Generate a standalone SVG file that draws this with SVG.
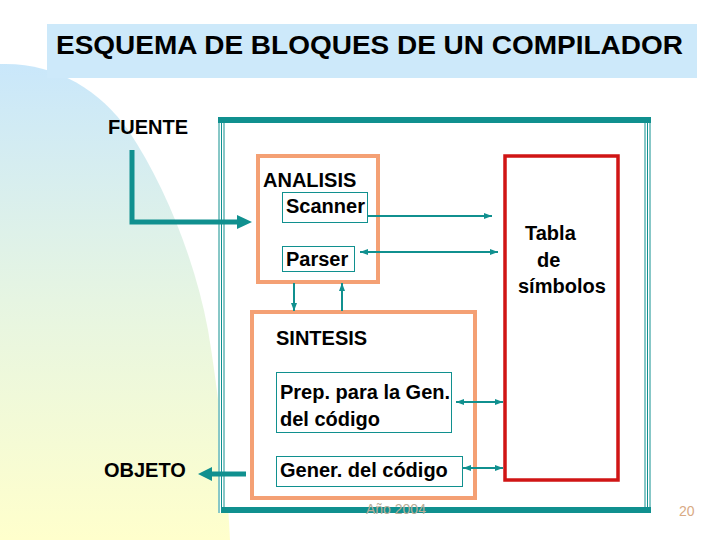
<svg xmlns="http://www.w3.org/2000/svg" width="720" height="540" viewBox="0 0 720 540">
<style>
.lbl{font-family:"Liberation Sans",Arial,sans-serif;font-weight:bold;font-size:20px;fill:#000}
.orange{fill:none;stroke:#f4a074;stroke-width:4}
.thin{fill:#fff;stroke:#10908f;stroke-width:1}
.conn{stroke:#10908f;stroke-width:2;fill:none}
.thick{stroke:#10908f;stroke-width:5;fill:none}
.frame{stroke:#10908f;stroke-width:1;fill:none}
.foot{font-family:"Liberation Sans",Arial,sans-serif;font-size:14px}
</style>
<defs>
<linearGradient id="bg" gradientUnits="userSpaceOnUse" x1="0" y1="60" x2="0" y2="540">
<stop offset="0" stop-color="#c9e7fb"/>
<stop offset="0.5" stop-color="#e6f5e2"/>
<stop offset="1" stop-color="#ffffcc"/>
</linearGradient>
<marker id="ah" markerUnits="userSpaceOnUse" markerWidth="8" markerHeight="6" refX="8" refY="3" orient="auto-start-reverse">
<path d="M0,0 L8,3 L0,6 Z" fill="#10908f"/>
</marker>
</defs>
<rect width="720" height="540" fill="#fff"/>
<path d="M0,64 C55,62 100,90 128,130 C165,185 195,260 208,330 C218,390 226,460 230,540 L0,540 Z" fill="url(#bg)"/>
<g id="title">
<rect x="47" y="24" width="650" height="54" fill="#cde9fa"/>
<text x="56" y="54" font-family="Liberation Sans,Arial,sans-serif" font-weight="bold" font-size="25" textLength="627" lengthAdjust="spacingAndGlyphs">ESQUEMA DE BLOQUES DE UN COMPILADOR</text>
</g>
<g id="frame">
<rect x="218" y="117" width="433" height="396" fill="#fff"/>
<line class="frame" x1="219" y1="117" x2="219" y2="513"/>
<line class="frame" x1="221.5" y1="117" x2="221.5" y2="513"/>
<line class="frame" x1="224" y1="117" x2="224" y2="513"/>
<line class="frame" x1="645" y1="117" x2="645" y2="513"/>
<line class="frame" x1="647.5" y1="117" x2="647.5" y2="513"/>
<line class="frame" x1="650" y1="117" x2="650" y2="513"/>
<rect x="218" y="117" width="433" height="6" fill="#10908f"/>
<rect x="222" y="507" width="429" height="6" fill="#10908f"/>
</g>
<g id="fuente"><text class="lbl" x="108" y="134">FUENTE</text></g>
<g id="objeto"><text class="lbl" x="104" y="477">OBJETO</text></g>
<g id="analisis">
<rect class="orange" x="258" y="156" width="120" height="126"/>
<text class="lbl" x="263" y="187">ANALISIS</text>
</g>
<g id="scanner">
<rect class="thin" x="282.5" y="192.5" width="85" height="30"/>
<text class="lbl" x="286" y="213">Scanner</text>
</g>
<g id="parser">
<rect class="thin" x="282.5" y="246.5" width="72" height="25"/>
<text class="lbl" x="286" y="266">Parser</text>
</g>
<g id="sintesis">
<rect class="orange" x="252" y="312" width="223" height="186"/>
<text class="lbl" x="276" y="345">SINTESIS</text>
</g>
<g id="prep">
<rect class="thin" x="276.5" y="372.5" width="175" height="60"/>
<text class="lbl" x="280" y="399">Prep. para la Gen.</text>
<text class="lbl" x="280" y="426">del código</text>
</g>
<g id="gener">
<rect class="thin" x="276.5" y="456.5" width="186" height="30"/>
<text class="lbl" x="280" y="477">Gener. del código</text>
</g>
<g id="tabla">
<rect x="505" y="156" width="113" height="324" fill="none" stroke="#d01515" stroke-width="3.5"/>
<text class="lbl" x="525" y="240">Tabla</text>
<text class="lbl" x="537" y="267">de</text>
<text class="lbl" x="518" y="293">símbolos</text>
</g>
<g id="connectors">
<path class="thick" d="M132,150 V222 H240"/>
<polygon points="237,215 252,222 237,229" fill="#10908f"/>
<line class="thick" x1="246" y1="474" x2="210" y2="474"/>
<polygon points="212,467 198,474 212,481" fill="#10908f"/>
<line class="conn" x1="368" y1="216" x2="492" y2="216" marker-end="url(#ah)"/>
<line class="conn" x1="360" y1="252" x2="498" y2="252" marker-start="url(#ah)" marker-end="url(#ah)"/>
<line class="conn" x1="294" y1="283" x2="294" y2="311" marker-end="url(#ah)"/>
<line class="conn" x1="342" y1="311" x2="342" y2="283" marker-end="url(#ah)"/>
<line class="conn" x1="456" y1="402" x2="503" y2="402" marker-start="url(#ah)" marker-end="url(#ah)"/>
<line class="conn" x1="463" y1="468" x2="503" y2="468" marker-start="url(#ah)" marker-end="url(#ah)"/>
</g>
<g id="footer">
<text class="foot" x="366" y="514" fill="#b8ae98">Año 2004</text>
<text class="foot" x="679" y="516" fill="#d9aa84">20</text>
</g>
</svg>
